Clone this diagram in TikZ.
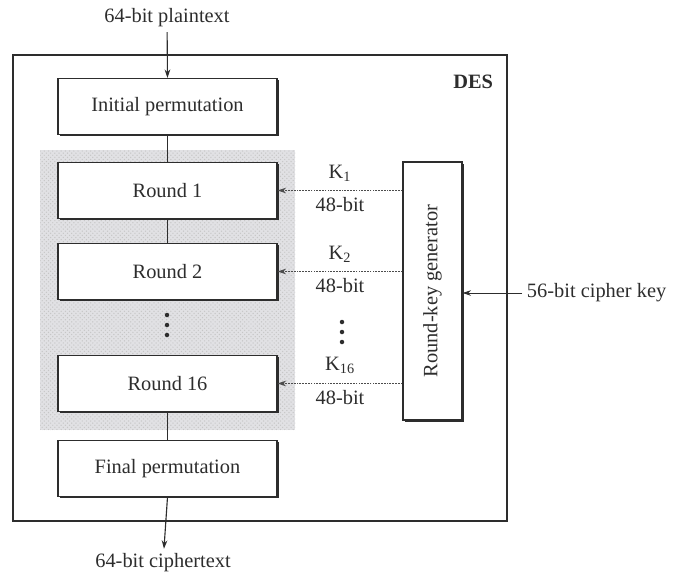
\documentclass[tikz,border=0pt]{standalone}
\usepackage{fontspec}
\setmainfont{Liberation Serif}
\usepackage{xcolor}
\usepackage{tikz}
\usetikzlibrary{arrows.meta, patterns, shadows, positioning, calc}
\definecolor{desink}{RGB}{45,45,45}
\definecolor{desshade}{RGB}{225,225,228}

\begin{document}
\begin{tikzpicture}[x=0.025cm, y=-0.025cm,
    font=\fontsize{14.5}{17}\selectfont, text=desink,
    stage/.style={draw=desink, line width=0.8pt, fill=white,
      minimum width=5.475cm, minimum height=1.4cm, inner sep=0pt,
      drop shadow={shadow xshift=1.3pt, shadow yshift=-1.3pt,
        fill=desink, opacity=1}},
    keyline/.style={-{Stealth[length=6pt, width=4pt]}, draw=desink!85,
      line width=0.7pt, dash pattern=on 1.2pt off 0.8pt},
    flow/.style={line width=0.8pt, desink},
    dotmark/.style={circle, fill=desink, inner sep=0pt, minimum size=3.2pt}]

\useasboundingbox (0,0) rectangle (679,575);

%% DES frame and the shaded round block
\draw[desink, line width=0.9pt,
      drop shadow={shadow xshift=1pt, shadow yshift=-1pt, fill=desink, opacity=1},
      fill=white] (13,55) rectangle (507,521);
\fill[desshade] (40,150) rectangle (295,430);
\fill[pattern=crosshatch dots, pattern color=gray!45] (40,150) rectangle (295,430);
\node[anchor=east, font=\fontsize{14.5}{17}\selectfont\bfseries] (deslabel)
  at (498,82) {DES};

%% permutation and round stages
\node[stage] (ip)  at (167.5,106.5) {Initial permutation};
\node[stage] (r1)  at (167.5,190.5) {Round 1};
\node[stage] (r2)  at (167.5,271.5) {Round 2};
\node[stage] (r16) at (167.5,383.5) {Round 16};
\node[stage] (fp)  at (167.5,468.5) {Final permutation};
\node[dotmark] (rd1) at (167,315) {};
\node[dotmark] (rd2) at (167,325) {};
\node[dotmark] (rd3) at (167,335) {};

%% round-key generator
\node[draw=desink, line width=0.8pt, fill=white, minimum width=1.475cm,
      minimum height=6.45cm, inner sep=0pt,
      drop shadow={shadow xshift=1.3pt, shadow yshift=-1.3pt,
        fill=desink, opacity=1}] (keygen) at (432.5,291)
  {\rotatebox{90}{Round-key generator}};
\node[dotmark] (kd1) at (342,322) {};
\node[dotmark] (kd2) at (342,332) {};
\node[dotmark] (kd3) at (342,342) {};

%% outside texts
\node (plain)  at (167,18)  {64-bit plaintext};
\node (cipher) at (163,563) {64-bit ciphertext};
\node[anchor=west] (key) at (522,293) {56-bit cipher key};

%% data path
\draw[flow, -{Stealth[length=6pt, width=4pt]}] (plain) -- (ip.north);
\draw[flow] (ip.south) -- (r1.north);
\draw[flow] (r1.south) -- (r2.north);
\draw[flow] (r16.south) -- (fp.north);
\draw[flow, -{Stealth[length=6pt, width=4pt]}] (fp.south) -- (cipher);

%% round keys
\draw[keyline] (keygen.west |- r1.east) -- (r1.east)
  node[midway, above=3pt, text=desink] {K\textsubscript{1}}
  node[midway, below=1pt, text=desink] {48-bit};
\draw[keyline] (keygen.west |- r2.east) -- (r2.east)
  node[midway, above=3pt, text=desink] {K\textsubscript{2}}
  node[midway, below=1pt, text=desink] {48-bit};
\draw[keyline] (keygen.west |- r16.east) -- (r16.east)
  node[midway, above=3pt, text=desink] {K\textsubscript{16}}
  node[midway, below=1pt, text=desink] {48-bit};
\draw[flow, -{Stealth[length=6pt, width=4pt]}, line width=0.7pt]
  (key.west) -- (keygen.east |- key.west);

\end{tikzpicture}
\end{document}
